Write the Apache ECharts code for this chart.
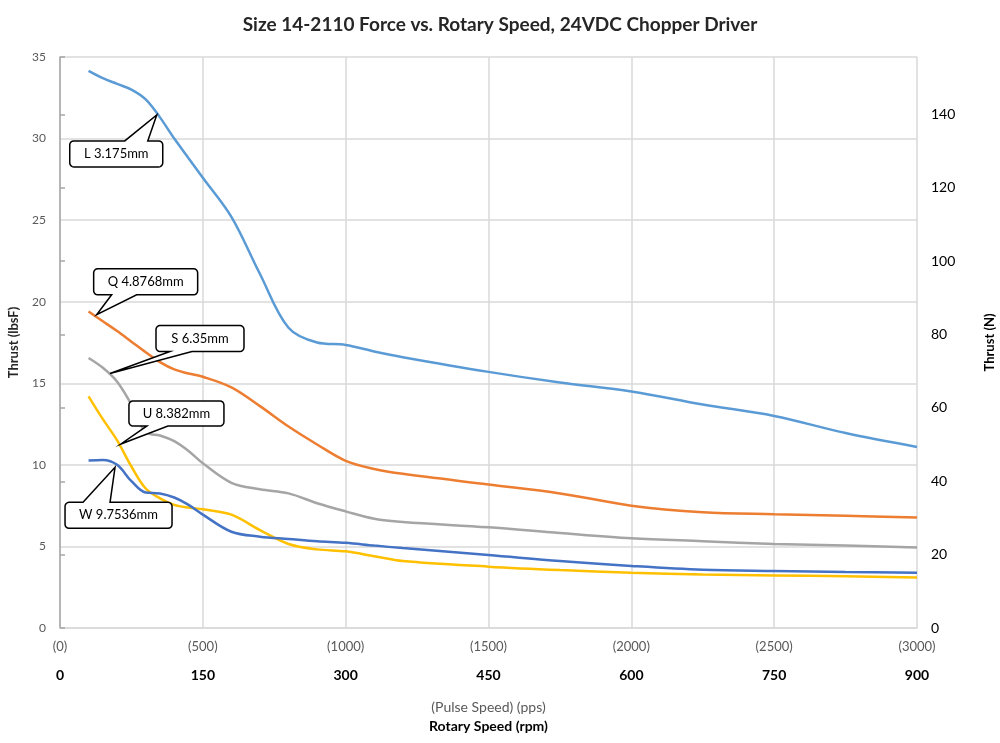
<!DOCTYPE html>
<html>
<head>
<meta charset="utf-8">
<script src="https://cdn.jsdelivr.net/npm/echarts@6/dist/echarts.min.js"></script>
<style>
  html, body { margin: 0; padding: 0; background: #fff; }
  #chart { width: 1000px; height: 743px; }
</style>
</head>
<body>
<div id="chart"></div>
<script>
// rotary speed samples (rpm)
const rpm = [30, 45, 60, 75, 90, 105, 120, 135, 150, 180, 210, 240, 270, 300, 330, 360, 450, 525, 600, 675, 750, 825, 900];

// thrust in lbsF
const leadL = [34.15, 33.7, 33.35, 33.0, 32.4, 31.3, 30.0, 28.8, 27.6, 25.2, 21.7, 18.4, 17.5, 17.35, 16.95, 16.6, 15.7, 15.05, 14.5, 13.7, 13.0, 11.95, 11.1];
const leadQ = [19.4, 18.8, 18.2, 17.55, 16.9, 16.3, 15.85, 15.6, 15.4, 14.75, 13.6, 12.35, 11.25, 10.25, 9.75, 9.45, 8.8, 8.25, 7.5, 7.1, 6.97, 6.88, 6.77];
const leadS = [16.55, 15.95, 15.1, 13.7, 12.0, 11.8, 11.45, 10.85, 10.1, 8.9, 8.5, 8.25, 7.65, 7.15, 6.7, 6.5, 6.17, 5.82, 5.5, 5.32, 5.15, 5.05, 4.93];
const leadU = [14.2, 12.8, 11.5, 9.9, 8.55, 7.95, 7.55, 7.38, 7.28, 6.95, 6.0, 5.15, 4.82, 4.7, 4.4, 4.1, 3.76, 3.55, 3.39, 3.28, 3.22, 3.17, 3.1];
const leadW = [10.26, 10.3, 10.0, 9.0, 8.3, 8.25, 8.0, 7.55, 6.95, 5.9, 5.6, 5.46, 5.32, 5.22, 5.05, 4.9, 4.48, 4.1, 3.8, 3.57, 3.49, 3.43, 3.39];

const seriesNames = ['L 3.175mm', 'Q 4.8768mm', 'S 6.35mm', 'U 8.382mm', 'W 9.7536mm'];
const seriesValues = [leadL, leadQ, leadS, leadU, leadW];
const colors = ['#5B9BD5', '#ED7D31', '#A5A5A5', '#FFC000', '#4472C4'];

// callout anchor points on each curve [rpm, lbsF]
const calloutAnchors = [[101.6, 31.45], [38.5, 19.2], [52.5, 15.6], [64, 11.28], [57.8, 9.85]];

const LBF_TO_N = 4.44822;
const FONT = 'Lato, "Liberation Sans", sans-serif';

// callout box layout relative to the anchor (px): box dx, dy, w, h, pointer edge, pointer base from box left
const calloutLayout = [
  { dx: -87, dy: 26, w: 93, h: 26, edge: 'top', base: [55, 78] },
  { dx: -3, dy: -46, w: 104, h: 26, edge: 'bottom', base: [18, 43] },
  { dx: 46, dy: -48, w: 88, h: 26, edge: 'bottom', base: [14, 36] },
  { dx: 8, dy: -43, w: 95, h: 25, edge: 'bottom', base: [18, 39] },
  { dx: -50, dy: 35, w: 107, h: 26, edge: 'top', base: [18, 45] }
];

const chart = echarts.init(document.getElementById('chart'));

const option = {
  animation: false,
  backgroundColor: '#fff',
  title: {
    text: 'Size 14-2110 Force vs. Rotary Speed, 24VDC Chopper Driver',
    left: 'center',
    top: 10,
    textStyle: { fontFamily: FONT, fontSize: 19, fontWeight: 'bold', color: '#262626' }
  },
  grid: { left: 60, right: 83, top: 57, bottom: 115, outerBoundsMode: 'none' },
  xAxis: [
    {
      type: 'value', min: 0, max: 900, interval: 150, position: 'bottom',
      name: 'Rotary Speed (rpm)', nameLocation: 'middle', nameGap: 91,
      nameTextStyle: { fontFamily: FONT, fontSize: 14, fontWeight: 'bold', color: '#000' },
      axisLine: { show: true, lineStyle: { color: '#D9D9D9', width: 1.5 } },
      axisTick: { show: false },
      axisLabel: { margin: 40, fontFamily: FONT, fontSize: 14, fontWeight: 'bold', color: '#000' },
      splitLine: { show: true, lineStyle: { color: '#D9D9D9', width: 1.5 } }
    },
    {
      type: 'value', min: 0, max: 3000, interval: 500, position: 'bottom', offset: 0,
      name: '(Pulse Speed) (pps)', nameLocation: 'middle', nameGap: 72,
      nameTextStyle: { fontFamily: FONT, fontSize: 14, color: '#595959' },
      axisLine: { show: false },
      axisTick: { show: false },
      axisLabel: { margin: 12, fontFamily: FONT, fontSize: 13, color: '#595959', formatter: v => '(' + v + ')' },
      splitLine: { show: false }
    }
  ],
  yAxis: [
    {
      type: 'value', min: 0, max: 35, interval: 5, position: 'left',
      name: 'Thrust (lbsF)', nameLocation: 'middle', nameGap: 40, nameRotate: 90,
      nameTextStyle: { fontFamily: FONT, fontSize: 13, fontWeight: 'bold', color: '#262626' },
      axisLine: { show: false },
      axisTick: { show: false },
      axisLabel: { margin: 14, fontFamily: FONT, fontSize: 12, color: '#595959' },
      splitLine: { show: true, lineStyle: { color: '#D9D9D9', width: 1.5 } }
    },
    {
      type: 'value', min: 0, max: 35 * LBF_TO_N, interval: 20, position: 'right',
      name: 'Thrust (N)', nameLocation: 'middle', nameGap: 66, nameRotate: 90,
      nameTextStyle: { fontFamily: FONT, fontSize: 13, fontWeight: 'bold', color: '#000' },
      axisLine: { show: true, lineStyle: { color: '#A6A6A6', width: 1.5 } },
      axisTick: { show: true, length: 5, lineStyle: { color: '#A6A6A6', width: 1.5 } },
      axisLabel: {
        margin: 14, fontFamily: FONT, fontSize: 14, color: '#000',
        formatter: v => (Math.abs(v % 20) < 1e-6 ? String(v) : '')
      },
      splitLine: { show: false }
    }
  ],
  series: seriesNames.map((name, i) => ({
    name,
    type: 'line',
    xAxisIndex: 0,
    yAxisIndex: 0,
    smooth: 0.35,
    showSymbol: false,
    lineStyle: { color: colors[i], width: 2.5 },
    itemStyle: { color: colors[i] },
    data: rpm.map((r, j) => [r, seriesValues[i][j]])
  }))
};

chart.setOption(option);

// rounded corner as a few points
function corner(cx, cy, r, a0) {
  const pts = [];
  for (let k = 0; k <= 4; k++) {
    const a = a0 + (k / 4) * Math.PI / 2;
    pts.push([cx + r * Math.cos(a), cy + r * Math.sin(a)]);
  }
  return pts;
}

function bubblePoints(x, y, w, h, r, edge, b1, b2, tx, ty) {
  let pts = [];
  pts = pts.concat(corner(x + r, y + r, r, Math.PI));
  if (edge === 'top') pts.push([b1, y], [tx, ty], [b2, y]);
  pts = pts.concat(corner(x + w - r, y + r, r, -Math.PI / 2));
  pts = pts.concat(corner(x + w - r, y + h - r, r, 0));
  if (edge === 'bottom') pts.push([b2, y + h], [tx, ty], [b1, y + h]);
  pts = pts.concat(corner(x + r, y + h - r, r, Math.PI / 2));
  return pts;
}

const graphics = [];
calloutAnchors.forEach((pt, i) => {
  const tip = chart.convertToPixel({ xAxisIndex: 0, yAxisIndex: 0 }, pt);
  const c = calloutLayout[i];
  const bx = tip[0] + c.dx;
  const by = tip[1] + c.dy;
  graphics.push({
    type: 'polygon',
    z: 100,
    shape: { points: bubblePoints(bx, by, c.w, c.h, 4, c.edge, bx + c.base[0], bx + c.base[1], tip[0], tip[1]) },
    style: { fill: '#fff', stroke: '#000', lineWidth: 1.5, lineJoin: 'miter' }
  });
  graphics.push({
    type: 'text',
    z: 101,
    x: bx + c.w / 2,
    y: by + c.h / 2,
    style: {
      text: seriesNames[i],
      fontFamily: FONT, fontSize: 13, fill: '#000',
      align: 'center', verticalAlign: 'middle'
    }
  });
});
chart.setOption({ graphic: graphics });
</script>
</body>
</html>
